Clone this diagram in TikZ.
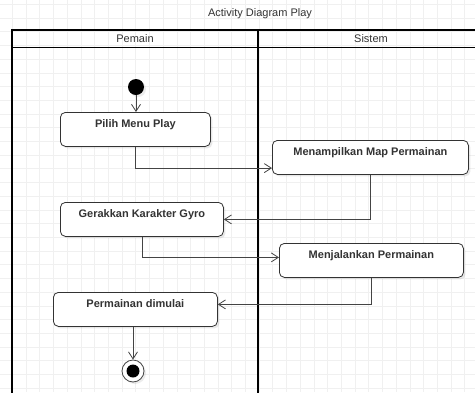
\documentclass[tikz,border=0pt]{standalone}
\usepackage{fontspec}
\setmainfont{Liberation Sans}
\usetikzlibrary{arrows.meta,shadows}
\definecolor{txt}{HTML}{333333}
\definecolor{gridc}{HTML}{F0F0F0}
\definecolor{edge}{HTML}{444444}
\tikzset{
  act/.style={draw=txt, line width=0.8pt, rounded corners=5pt, fill=white,
    drop shadow={opacity=0.18, shadow xshift=2pt, shadow yshift=-2pt},
    inner sep=0pt, text height=15pt, text depth=19pt, anchor=north west,
    font=\fontsize{11}{13}\selectfont\bfseries, text=txt},
  flow/.style={draw=edge, line width=0.8pt, -{Straight Barb[length=7pt,width=9pt]}},
  pool/.style={draw=black, line width=1.6pt},
  lanetitle/.style={font=\fontsize{11}{13}\selectfont, text=txt, inner sep=0pt}
}
\begin{document}
\begin{tikzpicture}[x=1pt,y=-1pt]
\useasboundingbox (0,0) rectangle (475,392);
\fill[white] (0,0) rectangle (475,392);
\begin{scope}
\clip (0,0) rectangle (475,392);
% grid
\foreach \i in {0,...,34} {
  \draw[gridc, line width=0.6pt] ({12.3+13.71*\i-13.71},0) -- ({12.3+13.71*\i-13.71},392);
}
\foreach \j in {0,...,29} {
  \draw[gridc, line width=0.6pt] (0,{4.26+13.71*\j}) -- (475,{4.26+13.71*\j});
}
% pool
\draw[pool] (12,400) -- (12,30) -- (490,30);
\draw[pool] (12,47.5) -- (490,47.5);
\draw[pool] (258,30) -- (258,400);
\end{scope}
\node[lanetitle] (title) at (260,14) {Activity Diagram Play};
\node[lanetitle] (lane1) at (135,39) {Pemain};
\node[lanetitle] (lane2) at (371,39) {Sistem};
% nodes
\node[circle, fill=black, minimum size=16pt, inner sep=0pt,
  drop shadow={opacity=0.15, shadow xshift=2pt, shadow yshift=-2pt}] (start) at (136,87) {};
\node[act, minimum width=150pt] (pilih) at (60,112) {Pilih Menu Play};
\node[act, minimum width=196pt] (mena) at (272,140) {Menampilkan Map Permainan};
\node[act, minimum width=163pt] (gerak) at (60,202) {Gerakkan Karakter Gyro};
\node[act, minimum width=184pt] (menj) at (279,243) {Menjalankan Permainan};
\node[act, minimum width=164pt] (mulai) at (53,292) {Permainan dimulai};
\node[circle, draw=edge, line width=0.8pt, fill=white, minimum size=22pt, inner sep=0pt,
  drop shadow={opacity=0.15, shadow xshift=2pt, shadow yshift=-2pt}] (end) at (133,371) {};
\node[circle, fill=black, minimum size=13pt, inner sep=0pt] (endin) at (end) {};
% flows
\draw[flow] (start) -- (start |- pilih.north);
\draw[flow] (pilih.south) |- ([yshift=-10.7pt]mena.west);
\draw[flow] (mena.south) |- (gerak.east);
\draw[flow] (gerak.south) |- ([yshift=3pt]menj.west);
\draw[flow] (menj.south) |- ([yshift=5pt]mulai.east);
\draw[flow] (mulai.south -| end.north) -- (end.north);
\end{tikzpicture}
\end{document}
